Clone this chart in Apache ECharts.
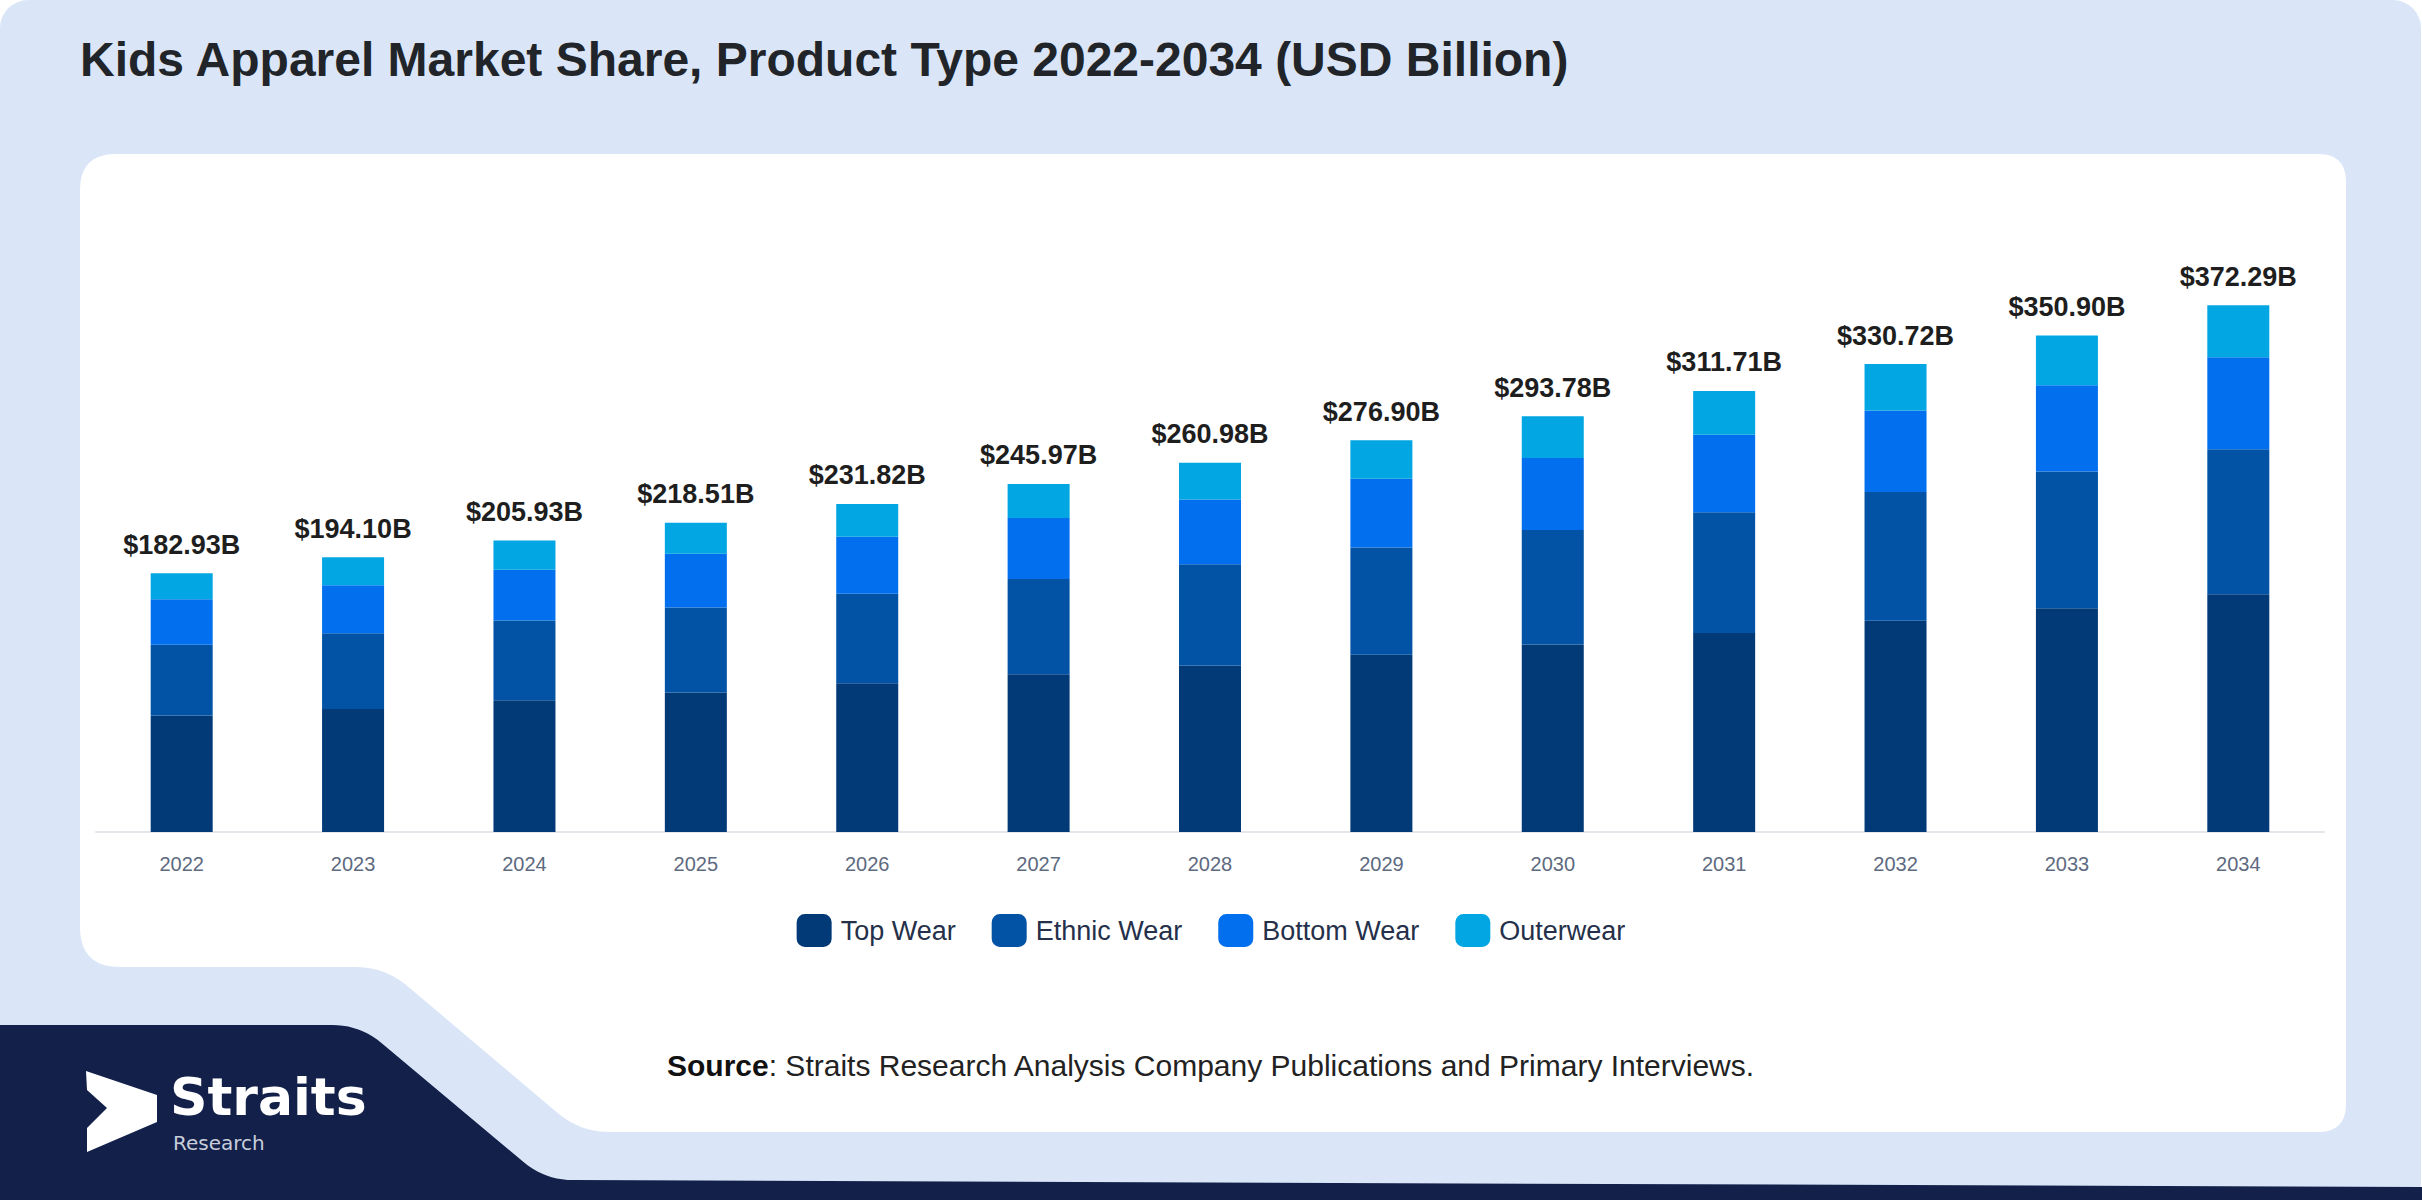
<!DOCTYPE html>
<html>
<head>
<meta charset="utf-8">
<script src="https://cdn.jsdelivr.net/npm/echarts@6/dist/echarts.min.js"></script>
<style>
html,body{margin:0;padding:0;background:#ffffff;}
#chart{width:2422px;height:1200px;}
</style>
</head>
<body>
<div id="chart"></div>
<script>
const categories = ['2022','2023','2024','2025','2026','2027','2028','2029','2030','2031','2032','2033','2034'];
const totals = [182.93,194.10,205.93,218.51,231.82,245.97,260.98,276.90,293.78,311.71,330.72,350.90,372.29];
const topWear = [82.25,87.01,93.12,98.50,105.06,111.40,117.62,125.33,132.59,140.64,149.22,158.09,167.98];
const ethnicWear = [50.13,53.40,56.37,60.08,63.26,67.40,71.56,75.67,80.82,85.40,91.02,96.67,102.56];
const bottomWear = [32.12,34.04,35.83,38.13,40.36,43.05,45.83,48.71,50.82,54.71,57.65,60.88,64.89];
const outerwear = [18.44,19.64,20.61,21.80,23.14,24.12,25.97,27.19,29.55,30.96,32.83,35.26,36.86];
const seriesNames = ['Top Wear','Ethnic Wear','Bottom Wear','Outerwear'];
const colors = ['#023a78','#0253a6','#0270ee','#02a6e2'];

const chart = echarts.init(document.getElementById('chart'), null, {renderer:'svg'});
const FONT = '"Liberation Sans", Arial, sans-serif';

// decorative outline helper: corners [x,y,r] -> polygon points with rounded corners
function rounded(corners){
  const pts = [];
  const n = corners.length;
  for (let i = 0; i < n; i++) {
    const p = corners[i], prev = corners[(i+n-1)%n], next = corners[(i+1)%n];
    const r = p[2] || 0;
    if (!r) { pts.push([p[0],p[1]]); continue; }
    const d1 = Math.hypot(prev[0]-p[0], prev[1]-p[1]);
    const d2 = Math.hypot(next[0]-p[0], next[1]-p[1]);
    const a = [p[0] + (prev[0]-p[0]) * Math.min(r/d1, 0.5), p[1] + (prev[1]-p[1]) * Math.min(r/d1, 0.5)];
    const b = [p[0] + (next[0]-p[0]) * Math.min(r/d2, 0.5), p[1] + (next[1]-p[1]) * Math.min(r/d2, 0.5)];
    for (let k = 0; k <= 10; k++) {
      const t = k/10, u = 1-t;
      pts.push([u*u*a[0] + 2*u*t*p[0] + t*t*b[0], u*u*a[1] + 2*u*t*p[1] + t*t*b[1]]);
    }
  }
  return pts;
}

function bar(name, data, color, withLabel){
  const s = {
    name: name, type: 'bar', stack: 'total', data: data,
    barWidth: 62,
    itemStyle: {color: color},
    emphasis: {disabled: true}
  };
  if (withLabel) {
    s.label = {
      show: true, position: 'top', distance: 15,
      fontFamily: FONT, fontWeight: 'bold', fontSize: 27, color: '#1e1e1e',
      formatter: p => '$' + totals[p.dataIndex].toFixed(2) + 'B'
    };
  }
  return s;
}

const option = {
  animation: false,
  textStyle: {fontFamily: FONT},
  graphic: [
    {type:'rect', z:-10, shape:{x:0,y:0,width:2421,height:1200,r:[28,28,0,0]}, style:{fill:'#dae6f8'}},
    {type:'polygon', z:-9, shape:{points: rounded([
      [80,154,36],[2346,154,28],[2346,1132,28],[580,1132,30],[385,967,30],[80,967,40]
    ])}, style:{fill:'#ffffff'}},
    {type:'polygon', z:-8, shape:{points: rounded([
      [0,1025,0],[360,1025,28],[545,1180,28],[2422,1187,0],[2422,1200,0],[0,1200,0]
    ])}, style:{fill:'#13204a'}},
    {type:'polygon', z:5, shape:{points:[[86,1071],[157,1095],[157,1122],[87,1152],[87,1128],[107,1108],[87,1090]]}, style:{fill:'#ffffff'}},
    {type:'text', z:5, x:170, y:1097, style:{text:'Straits', fill:'#ffffff', font:'bold 52px "DejaVu Sans", sans-serif', verticalAlign:'middle', align:'left'}},
    {type:'text', z:5, x:173, y:1143, style:{text:'Research', fill:'#c8cedb', font:'20px "DejaVu Sans", sans-serif', verticalAlign:'middle', align:'left'}},
    {type:'text', z:5, x:80, y:59, style:{text:'Kids Apparel Market Share, Product Type 2022-2034 (USD Billion)', fill:'#212529', font:'bold 48px "Liberation Sans", Arial, sans-serif', verticalAlign:'middle', align:'left'}},
    {type:'text', z:5, x:667, y:1065, style:{
      text:'{b|Source}{n|: Straits Research Analysis Company Publications and Primary Interviews.}',
      verticalAlign:'middle', align:'left',
      rich:{
        b:{fontFamily:'Liberation Sans', fontWeight:'bold', fontSize:30, fill:'#111111'},
        n:{fontFamily:'Liberation Sans', fontSize:30, fill:'#222222'}
      }}}
  ],
  legend: {
    top: 909, left: 'center',
    itemWidth: 35, itemHeight: 33, itemGap: 36,
    icon: 'roundRect',
    data: seriesNames,
    selectedMode: false,
    textStyle: {fontFamily: FONT, fontSize: 27, color: '#25304a', padding:[0,0,0,4]}
  },
  grid: {left: 96, right: 98, top: 266, bottom: 368, containLabel: false},
  xAxis: {
    type: 'category', data: categories,
    axisLine: {show: true, lineStyle: {color: '#e3e6eb', width: 2}},
    axisTick: {show: false},
    axisLabel: {color: '#5d6a80', fontSize: 20, margin: 22, fontFamily: FONT}
  },
  yAxis: {type: 'value', min: 0, max: 400, show: false, splitLine: {show: false}},
  series: [
    bar(seriesNames[0], topWear, colors[0], false),
    bar(seriesNames[1], ethnicWear, colors[1], false),
    bar(seriesNames[2], bottomWear, colors[2], false),
    bar(seriesNames[3], outerwear, colors[3], true)
  ]
};
chart.setOption(option);
</script>
</body>
</html>
